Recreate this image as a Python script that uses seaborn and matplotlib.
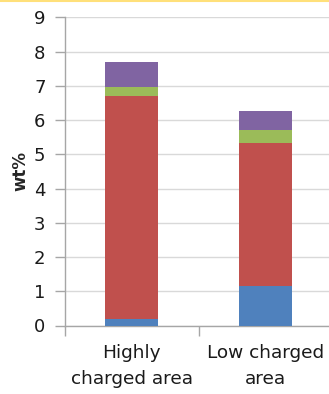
import matplotlib
matplotlib.use("Agg")
import matplotlib.pyplot as plt
import numpy as np
import pandas as pd
import seaborn as sns

# Composition by area, stacked bottom to top
categories = ["Highly\ncharged area", "Low charged\narea"]
layer_blue = [0.20, 1.16]
layer_red = [6.50, 4.16]
layer_green = [0.27, 0.38]
layer_purple = [0.72, 0.57]
layer_colors = ["#4F81BD", "#C0504D", "#9BBB59", "#8064A2"]
y_ticks = list(range(0, 10))

sns.set_style("white")
plt.rcParams["font.family"] = ["DejaVu Sans"]

fig = plt.figure(figsize=(3.29, 3.94), dpi=100)
ax = fig.add_axes([65 / 329, 68.5 / 394, 267 / 329, 308.2 / 394])

layers = [layer_blue, layer_red, layer_green, layer_purple]
cum = np.cumsum(np.array(layers), axis=0)

# Draw cumulative totals from the top layer down so each layer overlays the next
for level in range(len(layers) - 1, -1, -1):
    df = pd.DataFrame({"cat": categories, "val": cum[level]})
    sns.barplot(data=df, x="cat", y="val", color=layer_colors[level],
                width=0.4, saturation=1, ax=ax, zorder=3, linewidth=0)

ax.set_xlim(-0.5, 1.5)
ax.set_ylim(0, 9)
ax.set_yticks(y_ticks)
ax.yaxis.grid(True, color="#D9D9D9", linewidth=1)
ax.set_axisbelow(True)

for s in ["top", "right"]:
    ax.spines[s].set_visible(False)
for s in ["left", "bottom"]:
    ax.spines[s].set_color("#A6A6A6")
    ax.spines[s].set_linewidth(1)

ax.tick_params(axis="y", which="major", length=7, width=1, color="#A6A6A6",
               labelsize=13, pad=7, labelcolor="#1A1A1A", left=True)
ax.tick_params(axis="x", which="major", length=0, labelsize=13.3, pad=13,
               labelcolor="#1A1A1A")
ax.set_xticks([-0.5, 0.5, 1.5], minor=True)
ax.tick_params(axis="x", which="minor", length=7, width=1, color="#A6A6A6",
               bottom=True)
for lbl in ax.get_xticklabels():
    lbl.set_linespacing(1.6)

ax.set_xlabel("")
ax.set_ylabel("wt%", fontsize=12, fontweight="bold", labelpad=3)

# Thin rule along the top edge of the figure
fig.add_artist(plt.Line2D([0, 1], [0.9985, 0.9985], transform=fig.transFigure,
                          color="#FFE07A", linewidth=1.5))

fig.savefig("out.png", dpi=100)
